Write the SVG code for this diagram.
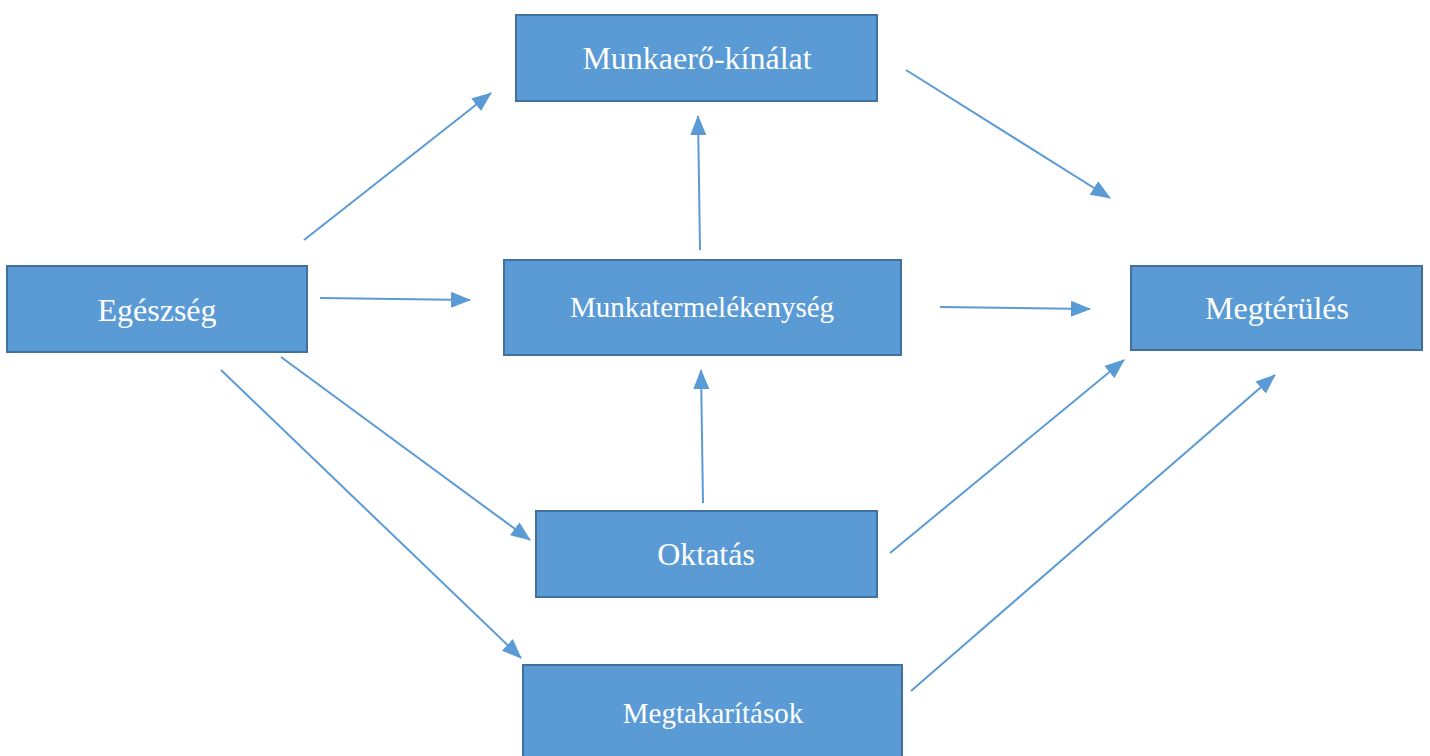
<svg xmlns="http://www.w3.org/2000/svg" width="1430" height="756" viewBox="0 0 1430 756">
<style>
.box{fill:#5B9BD5;stroke:#41719C;stroke-width:2}
.lbl{font-family:"Liberation Serif","Times New Roman",serif;fill:#fff;text-anchor:middle;dominant-baseline:central}
.big{font-size:32px}
.sm{font-size:29px}
.con line{stroke:#5B9BD5;stroke-width:2;marker-end:url(#ah)}
</style>
<defs>
<marker id="ah" markerUnits="userSpaceOnUse" markerWidth="20" markerHeight="16" refX="19" refY="8" orient="auto" viewBox="0 0 20 16">
<path d="M0,0 L20,8 L0,16 Z" fill="#5B9BD5"/>
</marker>
</defs>
<rect width="1430" height="756" fill="#fff"/>
<g id="munkaero"><rect class="box" x="516" y="15" width="361" height="86"/><text class="lbl big" x="697" y="58">Munkaerő-kínálat</text></g>
<g id="egeszseg"><rect class="box" x="7" y="266" width="300" height="86"/><text class="lbl big" x="157" y="310">Egészség</text></g>
<g id="munkatermelekenyseg"><rect class="box" x="504" y="260" width="397" height="95"/><text class="lbl sm" x="702" y="307">Munkatermelékenység</text></g>
<g id="megterules"><rect class="box" x="1131" y="266" width="291" height="84"/><text class="lbl big" x="1277" y="308">Megtérülés</text></g>
<g id="oktatas"><rect class="box" x="536" y="511" width="341" height="86"/><text class="lbl big" x="706" y="554">Oktatás</text></g>
<g id="megtakaritasok"><rect class="box" x="523" y="665" width="379" height="100"/><text class="lbl sm" x="713" y="713">Megtakarítások</text></g>
<g class="con" id="connectors">
<line x1="304" y1="240" x2="491" y2="93"/>
<line x1="320" y1="298" x2="470" y2="300"/>
<line x1="281" y1="357" x2="530" y2="540"/>
<line x1="221" y1="370" x2="521" y2="658"/>
<line x1="700" y1="250" x2="698" y2="116"/>
<line x1="703" y1="503" x2="701" y2="370"/>
<line x1="906" y1="70" x2="1110" y2="198"/>
<line x1="940" y1="307" x2="1090" y2="309"/>
<line x1="890" y1="553" x2="1124" y2="360"/>
<line x1="911" y1="691" x2="1275" y2="375"/>
</g>
</svg>
